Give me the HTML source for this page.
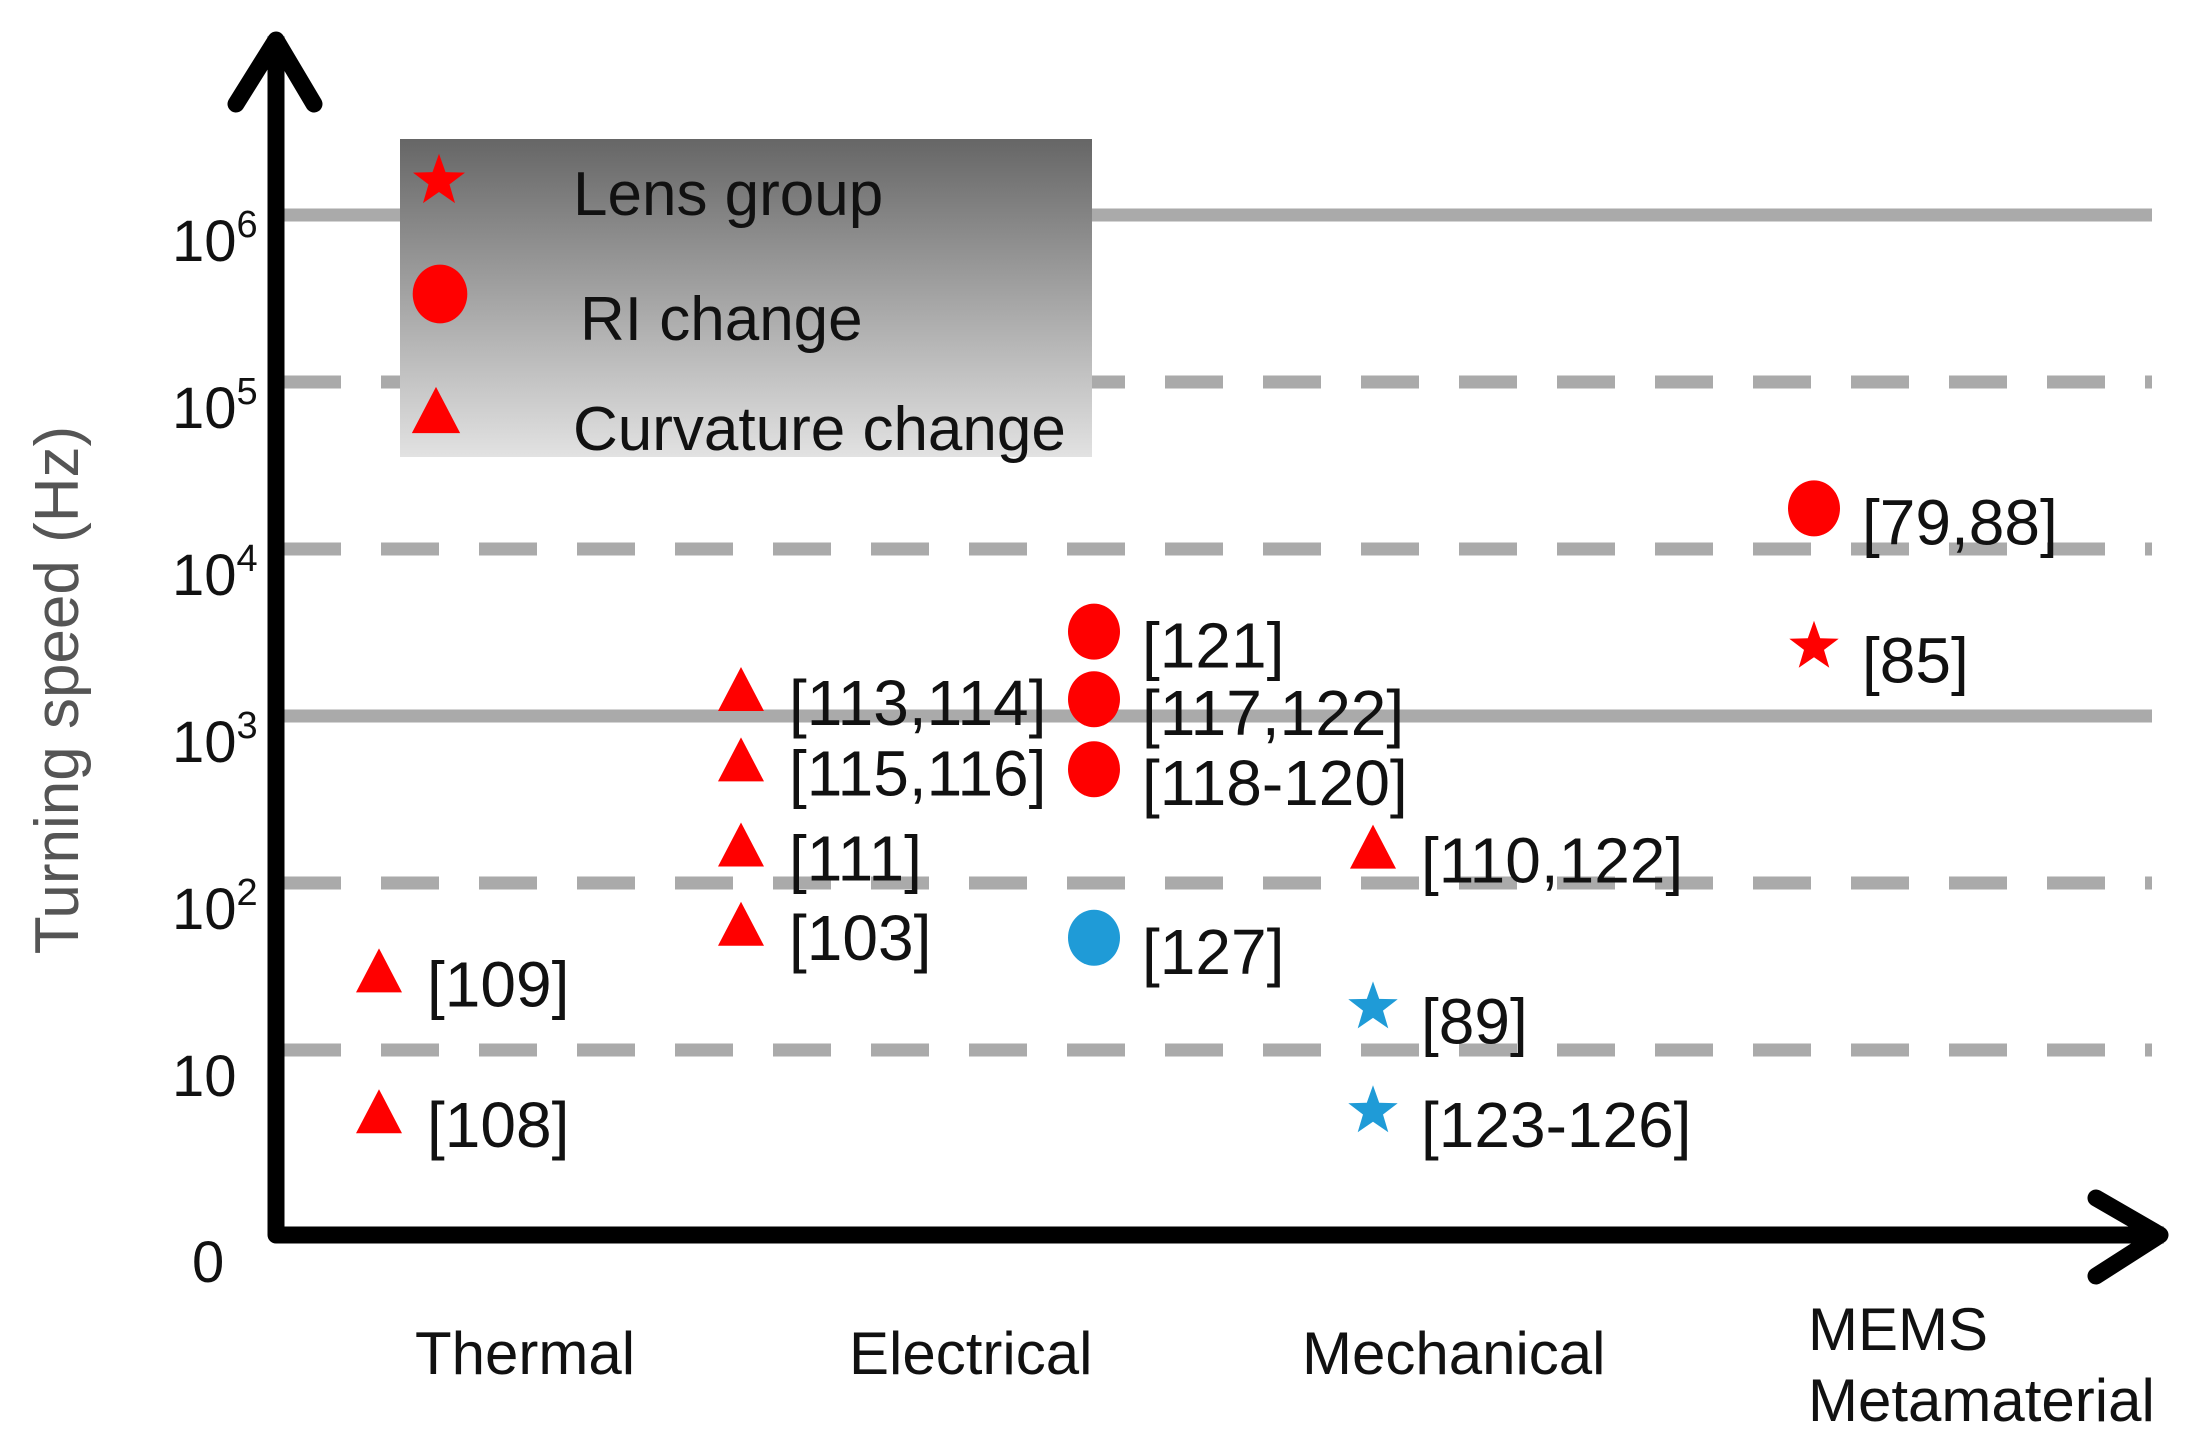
<!DOCTYPE html>
<html><head><meta charset="utf-8"><style>
html,body{margin:0;padding:0;background:#fff}
svg{display:block}
text{font-family:"Liberation Sans",sans-serif}
</style></head><body>
<svg id="chart" width="2200" height="1449" viewBox="0 0 2200 1449" xmlns="http://www.w3.org/2000/svg">
<defs>
<linearGradient id="lg" x1="0" y1="0" x2="0" y2="1">
<stop offset="0" stop-color="#666"/><stop offset="1" stop-color="#e2e2e2"/>
</linearGradient>
</defs>
<g id="grid"></g>
<g id="ticks"></g>
<text transform="translate(78,690) rotate(-90)" text-anchor="middle" font-size="62" fill="#555">Turning speed (Hz)</text>
<g id="cats"></g>
<g>
<rect x="400" y="139" width="692" height="318" fill="url(#lg)"/>
<g id="legmarks"></g>
<text x="573" y="215" font-size="62" fill="#111">Lens group</text>
<text x="580" y="340" font-size="62" fill="#111">RI change</text>
<text x="573" y="450" font-size="62" fill="#111">Curvature change</text>
</g>
<g id="points"></g>
<g stroke="#000" stroke-width="17" fill="none" stroke-linecap="round" stroke-linejoin="round">
<polyline points="276,45 276,1235 2155,1235" stroke-linecap="square"/>
<polyline points="236,104 276,40 314,104"/>
<polyline points="2096,1198 2160,1235 2096,1276"/>
</g>
</svg>
<script>
const tickExps = [1,2,3,4,5,6];
const tickSolid = [false,false,true,false,false,true];
const categories = ["Thermal","Electrical","Mechanical","MEMS Metamaterial"];
const catIndex = [0,0,1,1,1,1,1,1,1,1,2,2,2,3,3];
const offsetIdx = [0,0,0,0,0,0,1,1,1,1,0,0,0,0,0];
const values = [30,4.3,1450,550,170,57,3200,1260,480,47,165,18,4.3,17500,2600];
const shapes = ["tri","tri","tri","tri","tri","tri","circle","circle","circle","circle","tri","star","star","circle","star"];
const colors = ["red","red","red","red","red","red","red","red","red","blue","red","blue","blue","red","red"];
const refs = ["[109]","[108]","[113,114]","[115,116]","[111]","[103]","[121]","[117,122]","[118-120]","[127]","[110,122]","[89]","[123-126]","[79,88]","[85]"];

const NS="http://www.w3.org/2000/svg";
const yScale = v => 1050 - (Math.log10(v)-1)*167;
const catX = [379, 741, 1373, 1814];
const xScale = (c,o) => catX[c] + o*353;
const COL = {red:"#ff0000", blue:"#1f9bd7"};
function mk(tag, attrs, parent){const e=document.createElementNS(NS,tag);for(const k in attrs)e.setAttribute(k,attrs[k]);parent.appendChild(e);return e;}

const grid=document.getElementById('grid'), ticks=document.getElementById('ticks');
tickExps.forEach((e,i)=>{
  const y=yScale(Math.pow(10,e));
  const l=mk('line',{x1:283,x2:2152,y1:y,y2:y,stroke:'#aaa','stroke-width':13},grid);
  if(!tickSolid[i]) l.setAttribute('stroke-dasharray','58 40');
  
  
  const t=mk('text',{x:172,y:y+46,'font-size':58,fill:'#111'},ticks);
  if(e===1){t.textContent='10';}
  else{t.textContent='10';const s=mk('tspan',{'font-size':38,dy:-24},t);s.textContent=String(e);}
  
  
});
const z=mk('text',{x:192,y:1282,'font-size':58,fill:'#111'},ticks);z.textContent='0';



const cats=document.getElementById('cats');
const catLabelX=[415,849,1302,1808];
categories.forEach((c,i)=>{
  if(i===3){
    const a=mk('text',{x:catLabelX[i],y:1350,'font-size':60,fill:'#111'},cats);a.textContent='MEMS';
    
    
    const b=mk('text',{x:catLabelX[i],y:1421,'font-size':60,fill:'#111'},cats);b.textContent='Metamaterial';
    
    
  } else {
    const t=mk('text',{x:catLabelX[i],y:1374,'font-size':60,fill:'#111'},cats);t.textContent=c;
    
    
  }
});

function marker(shape,x,y,col,parent,scale){
  scale=scale||1;let e;
  if(shape==='circle') e=mk('ellipse',{cx:x,cy:y,rx:26*scale,ry:28*scale,fill:col},parent);
  else if(shape==='tri'){const h=44*scale,w=46*scale;e=mk('polygon',{points:`${x},${y-h/2} ${x+w/2},${y+h/2} ${x-w/2},${y+h/2}`,fill:col},parent);}
  else {const R=26*scale,r=10.5*scale;let p=[];for(let k=0;k<10;k++){const a=-Math.PI/2+k*Math.PI/5;const rr=k%2?r:R;p.push((x+rr*Math.cos(a)).toFixed(1)+','+(y+rr*Math.sin(a)).toFixed(1));}
    e=mk('polygon',{points:p.join(' '),fill:col},parent);}
  return e;
}
const lm=document.getElementById('legmarks');
[['star',439,181],['circle',440,294],['tri',436,410]].forEach(d=>{
  const e=marker(d[0],d[1],d[2],COL.red,lm,1.05);
  
  
});
const pts=document.getElementById('points');
values.forEach((v,i)=>{
  const x=xScale(catIndex[i],offsetIdx[i]), y=yScale(v);
  const e=marker(shapes[i],x,y,COL[colors[i]],pts);
  
  
  const t=mk('text',{x:x+48,y:y+36,'font-size':64,fill:'#111'},pts);
  t.textContent=refs[i];
  
  
});
</script>
</body></html>
